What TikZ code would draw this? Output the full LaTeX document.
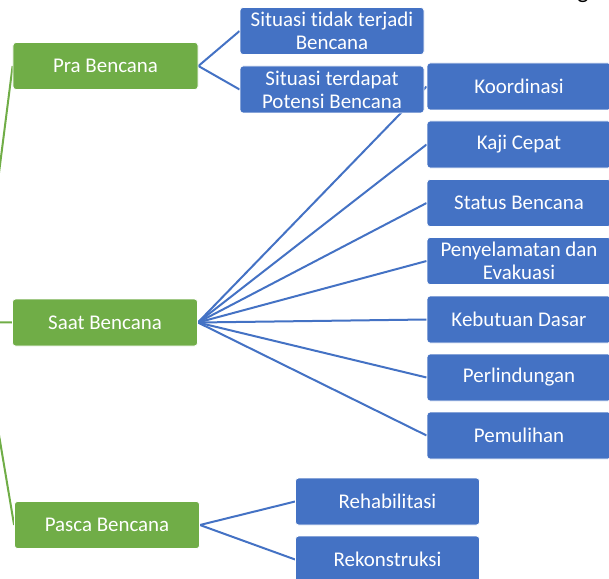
\documentclass[tikz,border=0pt]{standalone}
\usepackage{fontspec}
\setmainfont{Carlito}[Ligatures=NoCommon]
\usetikzlibrary{backgrounds}
\definecolor{ggreen}{HTML}{70AD47}
\definecolor{bblue}{HTML}{4472C4}
\begin{document}
\begin{tikzpicture}[x=1bp,y=-1bp,
  box/.style={rectangle, rounded corners=3bp, draw=white, line width=0.8bp, text=white, align=center, inner sep=0pt, minimum height=47bp, font=\fontsize{21}{23}\selectfont},
  gbox/.style={box, fill=ggreen, minimum width=185bp},
  bbox/.style={box, fill=bblue, minimum width=184bp},
  bl/.style={draw=bblue, line width=2bp},
  gl/.style={draw=ggreen, line width=2bp}]
\useasboundingbox (0,0) rectangle (609,579);
\clip (0,0) rectangle (609,579);
\coordinate (root) at (-20,322);
% green level
\node[gbox] (pra) at (105.5,66) {Pra Bencana};
\node[gbox] (saat) at (105,322.5) {Saat Bencana};
\node[gbox] (pasca) at (107,525) {Pasca Bencana};
% pra children
\node[bbox] (s1) at (332,31) {Situasi tidak terjadi\\Bencana};
\node[bbox] (s2) at (332,89.5) {Situasi terdapat\\Potensi Bencana};
% saat children
\node[bbox] (koor) at (519,86.5) {Koordinasi};
\node[bbox] (kaji) at (519,144.5) {Kaji Cepat};
\node[bbox] (status) at (519,203) {Status Bencana};
\node[bbox] (peny) at (519,261) {Penyelamatan dan\\Evakuasi};
\node[bbox] (kebut) at (519,319.5) {Kebutuan Dasar};
\node[bbox] (perl) at (519,377.5) {Perlindungan};
\node[bbox] (pemu) at (519,435.5) {Pemulihan};
% pasca children
\node[bbox] (rehab) at (387.5,501.5) {Rehabilitasi};
\node[bbox] (rekon) at (387.5,559.5) {Rekonstruksi};
% cut-off text at top right
\node[text=black, font=\fontsize{24}{26}\selectfont, anchor=base, inner sep=0pt] (gtxt) at (583,-1) {g};
\begin{scope}[on background layer]
  \draw[gl] (root) -- (pra.west);
  \draw[gl] (root) -- (saat.west);
  \draw[gl] (root) -- (pasca.west);
  \draw[bl] (pra.east) -- (s1.west);
  \draw[bl] (pra.east) -- (s2.west);
  \foreach \n in {koor,kaji,status,peny,kebut,perl,pemu}
    \draw[bl] (saat.east) -- (\n.west);
  \draw[bl] (pasca.east) -- (rehab.west);
  \draw[bl] (pasca.east) -- (rekon.west);
\end{scope}
\end{tikzpicture}
\end{document}
